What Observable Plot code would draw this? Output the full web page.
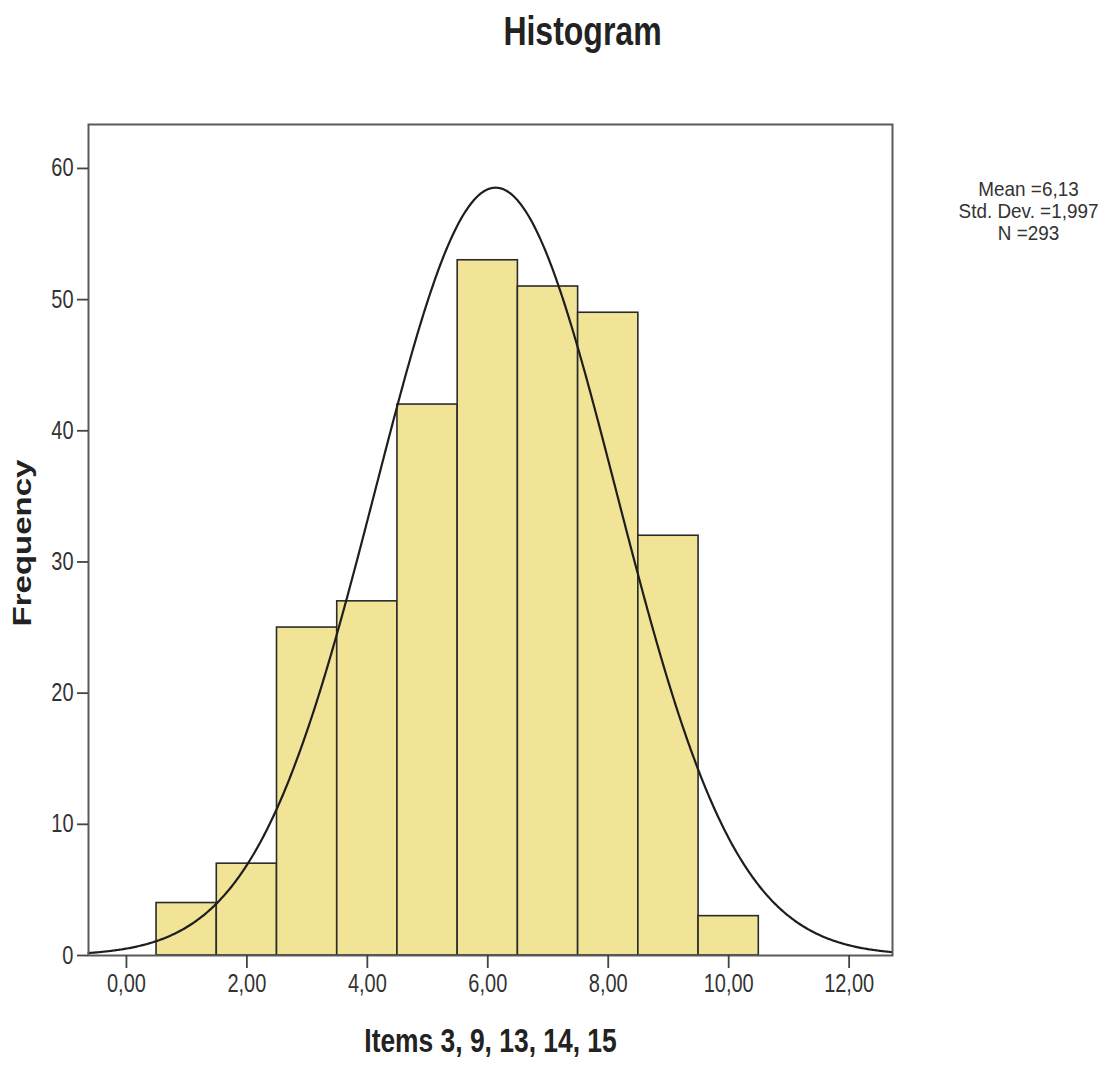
<!DOCTYPE html>
<html>
<head>
<meta charset="utf-8">
<script src="https://cdn.jsdelivr.net/npm/d3@7"></script>
<script src="https://cdn.jsdelivr.net/npm/@observablehq/plot@0.6"></script>
<style>
  html, body { margin: 0; padding: 0; background: #fff; }
  #chart { width: 1119px; height: 1066px; }
</style>
</head>
<body>
<div id="chart"></div>
<script>
// Histogram bins (centre value of each unit-wide bin) and their counts
const binCenters = [1, 2, 3, 4, 5, 6, 7, 8, 9, 10];
const frequencies = [4, 7, 25, 27, 42, 53, 51, 49, 32, 3];

// Axis ticks
const xTicks = [0, 2, 4, 6, 8, 10, 12];
const yTicks = [0, 10, 20, 30, 40, 50, 60];

// Summary statistics shown beside the plot
const mean = 6.13;
const stdDev = 1.997;
const n = 293;

const binWidth = 1;
const xDomain = [-0.63, 12.72];
const yDomain = [0, 63.35];

const comma = (v, digits) => v.toFixed(digits).replace(".", ",");

const bins = binCenters.map((c, i) => ({x1: c - binWidth / 2, x2: c + binWidth / 2, count: frequencies[i]}));

// Fitted normal curve scaled to counts (n * bin width * density)
const curve = d3.range(xDomain[0], xDomain[1] + 1e-9, 0.02).map(x => ({
  x,
  y: n * binWidth * Math.exp(-0.5 * ((x - mean) / stdDev) ** 2) / (stdDev * Math.sqrt(2 * Math.PI))
}));

const sans = '"Liberation Sans", Arial, sans-serif';

const statsText = [`Mean =${comma(mean, 2)}`, `Std. Dev. =${comma(stdDev, 3)}`, `N =${n}`].join("\n");

const chart = Plot.plot({
  width: 1119,
  height: 1066,
  marginLeft: 88,
  marginRight: 227,
  marginTop: 124,
  marginBottom: 111,
  x: {domain: xDomain},
  y: {domain: yDomain},
  style: {fontFamily: sans, fontSize: "25px", color: "#333", background: "#fff", overflow: "visible"},
  marks: [
    Plot.rectY(bins, {x1: "x1", x2: "x2", y: "count", fill: "#f1e497", stroke: "#2b2b2b", strokeWidth: 1.6}),
    Plot.line(curve, {x: "x", y: "y", stroke: "#1e1e1e", strokeWidth: 2.2}),
    Plot.frame({stroke: "#5a5a5a", strokeWidth: 2}),
    Plot.axisX({ticks: xTicks, tickFormat: d => comma(d, 2), tickSize: 13, tickPadding: 6, stroke: "#444", strokeWidth: 1.8, label: null, fontSize: 25}),
    Plot.axisY({ticks: yTicks, tickSize: 11, tickPadding: 4, stroke: "#444", strokeWidth: 1.8, label: null, fontSize: 25}),
    // Chart title
    Plot.text(["Histogram"], {frameAnchor: "top", dx: 92, dy: -108, lineAnchor: "top", fontSize: 40, fontWeight: "bold", fill: "#222"}),
    // Axis titles
    Plot.text(["Items 3, 9, 13, 14, 15"], {frameAnchor: "bottom", dy: 73, lineAnchor: "top", fontSize: 33, fontWeight: "bold", fill: "#222"}),
    Plot.text(["Frequency"], {frameAnchor: "left", dx: -66, dy: 3, rotate: -90, textAnchor: "middle", fontSize: 33, fontWeight: "bold", fill: "#222"}),
    // Statistics block
    Plot.text([statsText], {frameAnchor: "top-right", dx: 136, dy: 56, textAnchor: "middle", lineAnchor: "top", lineHeight: 1.05, fontSize: 21, fill: "#333"})
  ]
});

// The type is set in a condensed cut: narrow each label horizontally about its anchor
function squeeze(el, sx, sy) {
  const x = parseFloat(el.getAttribute("x")) || 0;
  const base = el.getAttribute("transform") || "";
  el.setAttribute("transform", `${base} translate(${x},0) scale(${sx},${sy}) translate(${-x},0)`.trim());
}
chart.querySelectorAll("text").forEach(t => {
  const s = t.textContent;
  if (s === "Frequency") squeeze(t, 1, 0.8);        // rotated: compress glyph height, which runs horizontally
  else if (s.startsWith("Mean")) squeeze(t, 0.9, 1);
  else squeeze(t, 0.8, 1);
});

document.getElementById("chart").appendChild(chart);
</script>
</body>
</html>
